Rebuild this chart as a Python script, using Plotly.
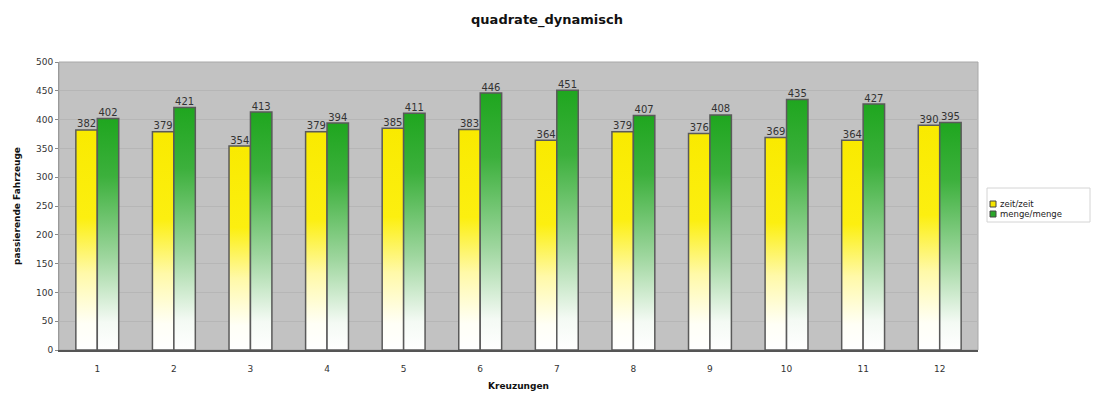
import plotly.graph_objects as go

# Kreuzungen 1..12 and passing vehicles per control strategy
kreuzungen = list(range(1, 13))
zeit_zeit = [382, 379, 354, 379, 385, 383, 364, 379, 376, 369, 364, 390]
menge_menge = [402, 421, 413, 394, 411, 446, 451, 407, 408, 435, 427, 395]
y_ticks = list(range(0, 501, 50))

BAR_W = 0.28
OUTLINE = "#5a5a5a"
FONT = "DejaVu Sans"

series = [
    ("zeit/zeit", zeit_zeit, -BAR_W,
     [[0, "#ffffff"], [0.12, "#fffff6"], [0.35, "#fff9a8"], [0.6, "#fcef10"], [1, "#f9ea00"]],
     "#f6e600"),
    ("menge/menge", menge_menge, 0.0,
     [[0, "#ffffff"], [0.12, "#f4faf4"], [0.4, "#9ed69e"], [0.75, "#3cb03c"], [1, "#1fa61f"]],
     "#2aa62a"),
]

fig = go.Figure()

for name, values, offset, cscale, solid in series:
    for k, v in zip(kreuzungen, values):
        x0 = k + offset
        x1 = x0 + BAR_W
        fig.add_trace(go.Scatter(
            x=[x0, x0, x1, x1, x0], y=[0, v, v, 0, 0],
            mode="lines", fill="toself", name=name,
            fillgradient=dict(type="vertical", colorscale=cscale, start=0, stop=v),
            line=dict(color=OUTLINE, width=1.5),
            showlegend=False, hoverinfo="skip",
        ))
    # value labels above each bar
    fig.add_trace(go.Scatter(
        x=[k + offset + BAR_W / 2 for k in kreuzungen], y=values,
        mode="text", text=[str(v) for v in values],
        textposition="top center",
        textfont=dict(family=FONT, size=10, color="#333333"),
        showlegend=False, hoverinfo="skip", cliponaxis=False,
    ))

fig.update_layout(
    width=1094, height=394, autosize=False,
    margin=dict(l=59, r=116, t=62, b=44, autoexpand=False),
    paper_bgcolor="white",
    plot_bgcolor="#c2c2c2",
    font=dict(family=FONT, size=9, color="#333333"),
    title=dict(text="<b>quadrate_dynamisch</b>", x=0.5, xanchor="center",
               y=0.95, yanchor="middle",
               font=dict(family=FONT, size=13, color="#111111")),
    showlegend=False,
    xaxis=dict(
        range=[0.5, 12.5], tickmode="array", tickvals=kreuzungen,
        ticktext=[str(k) for k in kreuzungen],
        showgrid=False, zeroline=False, automargin=False,
        showline=True, linecolor="#555555", linewidth=1.5, mirror=False,
        ticks="", ticklabelstandoff=9,
        tickfont=dict(family=FONT, size=9, color="#333333"),
        title=dict(text="<b>Kreuzungen</b>", standoff=10,
                   font=dict(family=FONT, size=9, color="#111111")),
    ),
    yaxis=dict(
        range=[0, 500], tickmode="array", tickvals=y_ticks,
        showgrid=True, gridcolor="#b6b6b6", gridwidth=1,
        zeroline=False, showline=True, linecolor="#9a9a9a", linewidth=1,
        automargin=False,
        ticks="outside", ticklen=3, tickcolor="#888888",
        tickfont=dict(family=FONT, size=9, color="#333333"),
        title=dict(text="<b>passierende Fahrzeuge</b>", standoff=13,
                   font=dict(family=FONT, size=9, color="#111111")),
    ),
)

# light frame around the plotting area
fig.add_shape(type="rect", xref="paper", yref="paper", x0=0, y0=0, x1=1, y1=1,
              line=dict(color="#a8a8a8", width=1), layer="below")

# compact legend box to the right of the plot
fig.add_shape(type="rect", xref="paper", yref="paper",
              x0=1.0098, x1=1.1219, y0=0.4444, y1=0.5625,
              line=dict(color="#d4d4d4", width=1), fillcolor="white")
legend_rows = [(0.5069, series[0]), (0.4722, series[1])]
for yc, (name, _, _, _, solid) in legend_rows:
    fig.add_shape(type="rect", xref="paper", yref="paper",
                  x0=1.0131, x1=1.0196, y0=yc - 0.0104, y1=yc + 0.0104,
                  line=dict(color="#444444", width=1), fillcolor=solid)
    fig.add_annotation(xref="paper", yref="paper", x=1.0218, y=yc,
                       xanchor="left", yanchor="middle", showarrow=False,
                       text=name, font=dict(family=FONT, size=8.5, color="#222222"))

fig.write_html("out.html")
